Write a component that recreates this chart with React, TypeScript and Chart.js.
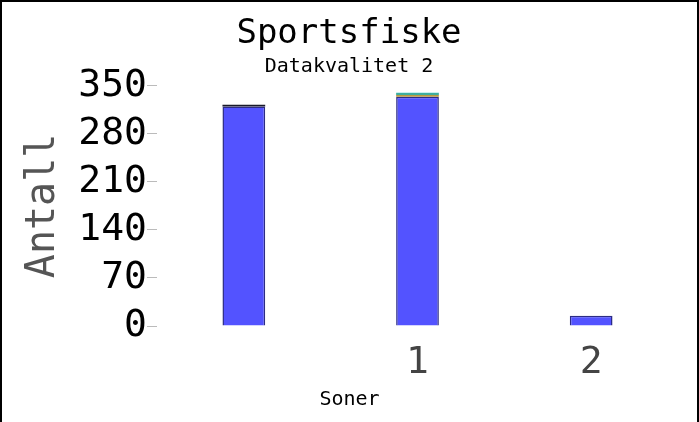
import React, { useEffect, useRef } from "react";
import { Chart, registerables } from "chart.js";

Chart.register(...registerables);

const categories = ["", "1", "2"];
const blueValues = [320, 334, 15];
const blackValues = [2.5, 0, 0];
const goldValues = [0, 2.5, 0];
const tealValues = [0, 3, 0];
const lightValues = [0, 1.5, 0];
const yTicks = [0, 70, 140, 210, 280, 350];
const xAxisTitle = "Soner";

const FONT = "'DejaVu Sans Mono', monospace";

const xTitlePlugin = {
  id: "xTitleCentered",
  afterDraw(chart: any) {
    const c = chart.ctx;
    c.save();
    c.font = `20px ${FONT}`;
    c.fillStyle = "#000";
    c.textAlign = "center";
    c.textBaseline = "middle";
    c.fillText(xAxisTitle, chart.width / 2, 398);
    c.restore();
  },
};

export default function App() {
  const ref = useRef<HTMLCanvasElement>(null);
  useEffect(() => {
    document.body.style.margin = "0";
    const ctx = ref.current!.getContext("2d")!;
    const mk = (label: string, data: number[], bg: string, border: string) => ({
      label,
      data,
      backgroundColor: bg,
      borderColor: border,
      borderWidth: 0,
      barPercentage: 0.246,
      categoryPercentage: 1,
    });
    const chart = new Chart(ctx, {
      type: "bar",
      plugins: [xTitlePlugin],
      data: {
        labels: categories,
        datasets: [
          { ...mk("a", blueValues, "#5353ff", "#2c2c85"), borderWidth: 1.5 },
          mk("b", blackValues, "#1a1a2a", "#1a1a2a"),
          mk("c", goldValues, "#b89a40", "#b89a40"),
          mk("d", tealValues, "#3fae9e", "#3fae9e"),
          mk("e", lightValues, "#c8f0f0", "#c8f0f0"),
        ],
      },
      options: {
        animation: false,
        responsive: false,
        layout: { padding: { left: 18, right: 19, top: 6, bottom: 8 } },
        plugins: {
          legend: { display: false },
          tooltip: { enabled: false },
          title: {
            display: true,
            text: "Sportsfiske",
            color: "#000",
            font: { family: FONT, size: 34, weight: "normal" },
            padding: { top: 6, bottom: 0 },
          },
          subtitle: {
            display: true,
            text: "Datakvalitet 2",
            color: "#000",
            font: { family: FONT, size: 20, weight: "normal" },
            padding: { top: 0, bottom: 7 },
          },
        },
        scales: {
          x: {
            stacked: true,
            offset: true,
            grid: { display: false, drawTicks: false },
            border: { display: false },
            ticks: {
              color: "#444",
              font: { family: FONT, size: 38 },
              padding: 14,
              maxRotation: 0,
            },
            afterFit: (s: any) => {
              s.height = 88;
            },
          },
          y: {
            stacked: true,
            min: 0,
            max: 350,
            afterBuildTicks: (s: any) => {
              s.ticks = yTicks.map((v) => ({ value: v }));
            },
            grid: {
              drawOnChartArea: false,
              drawTicks: true,
              tickLength: 10,
              color: "#bbb",
            },
            border: { display: false },
            ticks: {
              color: "#000",
              font: { family: FONT, size: 38, lineHeight: 0.9 },
              padding: 0,
              autoSkip: false,
            },
            title: {
              display: true,
              text: "Antall",
              color: "#555",
              font: { family: FONT, size: 40 },
              padding: { top: 0, bottom: 0 },
            },
            afterFit: (s: any) => {
              s.width = 137;
            },
          },
        },
      },
    });
    return () => chart.destroy();
  }, []);
  return (
    <div
      style={{
        position: "fixed",
        left: 0,
        top: 0,
        width: 699,
        height: 422,
        boxSizing: "border-box",
        borderLeft: "2px solid #000",
        borderRight: "2px solid #000",
        borderTop: "2px solid #000",
        background: "#fff",
      }}
    >
      <canvas
        ref={ref}
        width={695}
        height={420}
        style={{ display: "block", width: 695, height: 420 }}
      />
    </div>
  );
}
